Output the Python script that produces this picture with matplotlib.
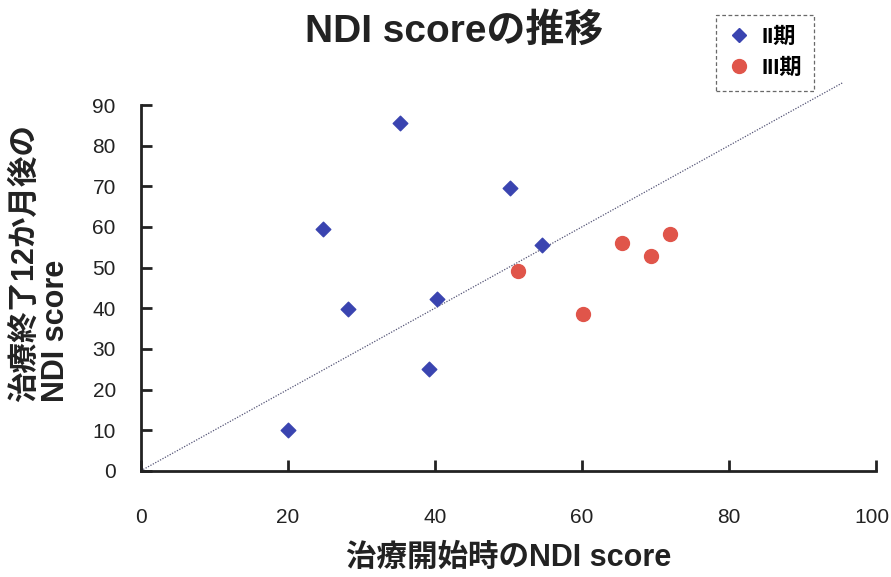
import matplotlib
matplotlib.use("Agg")
import matplotlib.pyplot as plt
import matplotlib.transforms as mtransforms
from matplotlib.lines import Line2D

plt.rcParams['font.family'] = ['Liberation Sans', 'Noto Sans CJK JP', 'DejaVu Sans']

# Data
ii_x = [20.0, 24.8, 28.2, 35.2, 39.2, 40.3, 50.2, 54.6]
ii_y = [10.0, 59.5, 39.8, 85.6, 25.0, 42.3, 69.6, 55.6]
iii_x = [51.3, 60.1, 65.4, 69.4, 72.0]
iii_y = [49.2, 38.6, 56.1, 52.8, 58.3]
ref_line = [0, 95.5]
x_ticks = [0, 20, 40, 60, 80, 100]
y_ticks = [0, 10, 20, 30, 40, 50, 60, 70, 80, 90]

fig = plt.figure(figsize=(8.91, 5.77), dpi=100)
ax = fig.add_axes([0.158, 0.184, 0.825, 0.634])

ax.plot(ref_line, ref_line, linestyle=(0, (1, 1.2)), color='#555577', lw=0.9, clip_on=False, zorder=1)
ax.scatter(ii_x, ii_y, marker='D', s=55, color='#3a44b0', zorder=3, clip_on=False)
ax.scatter(iii_x, iii_y, marker='o', s=100, color='#e0554a', zorder=3, clip_on=False)

ax.set_xlim(0, 100)
ax.set_ylim(0, 90)
ax.set_xticks(x_ticks)
ax.set_yticks(y_ticks)
for s in ['top', 'right']:
    ax.spines[s].set_visible(False)
for s in ['left', 'bottom']:
    ax.spines[s].set_linewidth(2)
    ax.spines[s].set_color('#222222')
ax.tick_params(axis='both', direction='in', length=8, width=2, color='#222222', labelsize=15, labelcolor='#222222')
ax.tick_params(axis='x', pad=27)
ax.tick_params(axis='y', pad=18)

# nudge last x tick label so it stays inside the figure
fig.canvas.draw()
last = ax.get_xticklabels()[-1]
last.set_transform(last.get_transform() + mtransforms.ScaledTranslation(-3 / 72, 0, fig.dpi_scale_trans))

fig.text(0.51, 0.945, 'NDI scoreの推移', ha='center', va='center', fontsize=28, fontweight='bold', color='#222222')
fig.text(0.571, 0.033, '治療開始時のNDI score', ha='center', va='center', fontsize=22, fontweight='bold', color='#222222')
fig.text(0.045, 0.544, '治療終了12か月後の\nNDI score', ha='center', va='center', rotation=90, fontsize=22,
         fontweight='bold', color='#222222', linespacing=1.05, multialignment='left')

handles = [Line2D([], [], marker='D', color='#3a44b0', ls='', markersize=7),
           Line2D([], [], marker='o', color='#e0554a', ls='', markersize=10)]
leg = fig.legend(handles, ['II期', 'III期'], loc='upper left', bbox_to_anchor=(0.8036, 0.974),
                 borderaxespad=0, frameon=True, fancybox=False, edgecolor='#444444',
                 prop={'size': 16, 'weight': 'bold'},
                 handletextpad=0.5, borderpad=0.55, labelspacing=0.45, handlelength=1.0)
leg.get_frame().set_linestyle((0, (3, 2)))
leg.get_frame().set_linewidth(0.9)

fig.savefig('out.png', dpi=100)
